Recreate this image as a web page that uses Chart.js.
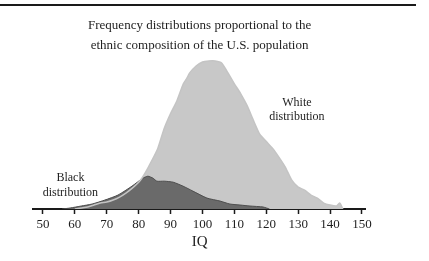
<!DOCTYPE html>
<html>
<head>
<meta charset="utf-8">
<script src="https://cdn.jsdelivr.net/npm/chart.js@4"></script>
<style>
  html, body { margin: 0; padding: 0; background: #fff; }
  #wrap { position: relative; width: 429px; height: 261px; }
  #rule { position: absolute; left: 0; top: 4px; width: 416px; height: 2px; background: #1a1a1a; }
</style>
</head>
<body>
<div id="wrap">
  <div id="rule"></div>
  <canvas id="iqChart"></canvas>
</div>
<script>
// IQ values and relative frequencies (arbitrary units)
var whiteIQ = [60, 62, 64, 66, 68, 70, 72, 74, 76, 78, 80, 81, 82, 84, 86, 88, 90, 92, 94, 95, 96, 98, 100, 102, 104, 106, 108, 110, 112, 114, 116, 118, 120, 122, 124, 126, 128, 130, 132, 134, 136, 138, 140, 142, 143, 144];
var whiteFreq = [0, 1, 2, 4, 6, 7, 9, 12, 16, 21, 27, 31, 36, 48, 61, 81, 96, 109, 126, 131, 137, 144, 148, 149, 149, 147, 137, 126, 116, 104, 89, 75, 68, 61, 52, 42, 29, 22, 19, 14, 11, 6, 4, 3, 6, 0];

var blackIQ = [56, 58.5, 62, 65.4, 69.4, 73.5, 77.9, 81.3, 82.9, 84.5, 85.7, 88, 90.8, 93.9, 97, 101.4, 105.5, 108.6, 111.8, 114.9, 119, 121];
var blackFreq = [0, 1, 3, 5, 9, 14, 23, 31, 33, 31, 28, 28, 27, 23, 18, 11, 8, 5, 4, 3, 2, 0];

var iqTicks = [50, 60, 70, 80, 90, 100, 110, 120, 130, 140, 150];

var titleLines = ['Frequency distributions proportional to the', 'ethnic composition of the U.S. population'];

function points(xs, ys) {
    return xs.map(function (x, i) { return { x: x, y: ys[i] }; });
}

var serif = "'Liberation Serif', 'Times New Roman', serif";

// text labels placed in data coordinates
var labelPlugin = {
    id: 'distLabels',
    afterDatasetsDraw: function (chart) {
        var ctx = chart.ctx;
        var xs = chart.scales.x, ys = chart.scales.y;
        var labels = [
            { text: 'White', x: 129.6, y: 107 },
            { text: 'distribution', x: 129.6, y: 93 },
            { text: 'Black', x: 58.6, y: 31 },
            { text: 'distribution', x: 58.6, y: 16 }
        ];
        ctx.save();
        ctx.font = '12px ' + serif;
        ctx.fillStyle = '#1e1e1e';
        ctx.textAlign = 'center';
        ctx.textBaseline = 'middle';
        labels.forEach(function (l) {
            ctx.fillText(l.text, xs.getPixelForValue(l.x), ys.getPixelForValue(l.y));
        });
        ctx.restore();
    }
};

var ctx = document.getElementById('iqChart');
var chart = new Chart(ctx, {
    type: 'line',
    data: {
        datasets: [{
            label: 'White outline',
            data: points(whiteIQ, whiteFreq),
            borderColor: '#c4c4c4',
            borderWidth: 1.5,
            fill: false,
            pointRadius: 0,
            tension: 0.2
        }, {
            label: 'Black distribution',
            data: points(blackIQ, blackFreq),
            backgroundColor: '#6a6a6a',
            borderColor: '#4e4e4e',
            borderWidth: 1,
            fill: 'origin',
            pointRadius: 0,
            tension: 0.2
        }, {
            label: 'White distribution',
            data: points(whiteIQ, whiteFreq),
            backgroundColor: '#c8c8c8',
            borderColor: '#c8c8c8',
            borderWidth: 0,
            fill: 'origin',
            pointRadius: 0,
            tension: 0.2
        }]
    },
    options: {
        responsive: true,
        maintainAspectRatio: false,
        animation: false,
        layout: {
            padding: { left: 33.4, right: 63.2, top: 0, bottom: 11 }
        },
        plugins: {
            legend: { display: false },
            tooltip: { enabled: false },
            title: {
                display: true,
                text: titleLines,
                color: '#1e1e1e',
                font: { family: serif, size: 13, weight: 'normal', lineHeight: 20 / 13 },
                padding: { top: 16, bottom: 2 }
            }
        },
        scales: {
            x: {
                type: 'linear',
                min: 47,
                max: 151.2,
                afterBuildTicks: function (axis) {
                    axis.ticks = iqTicks.map(function (v) { return { value: v }; });
                },
                grid: {
                    display: true,
                    drawOnChartArea: false,
                    drawTicks: true,
                    tickLength: 5,
                    tickColor: '#1a1a1a',
                    tickWidth: 1.5
                },
                border: { display: true, color: '#1a1a1a', width: 2 },
                ticks: {
                    padding: 4,
                    color: '#1e1e1e',
                    font: { family: serif, size: 13, lineHeight: 1 },
                    maxRotation: 0,
                    autoSkip: false
                },
                title: {
                    display: true,
                    text: 'IQ',
                    color: '#1e1e1e',
                    font: { family: serif, size: 15, lineHeight: 1 },
                    padding: { top: 0, bottom: 0 }
                }
            },
            y: {
                display: false,
                min: 0,
                max: 152
            }
        }
    },
    plugins: [labelPlugin]
});
</script>
</body>
</html>
